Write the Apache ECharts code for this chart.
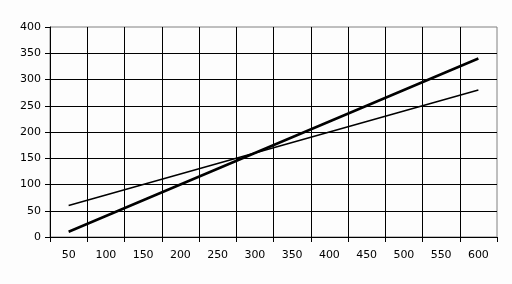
<!DOCTYPE html>
<html>
<head>
<meta charset="utf-8">
<script src="https://cdn.jsdelivr.net/npm/echarts@6/dist/echarts.min.js"></script>
<style>
html,body{margin:0;padding:0;background:#fdfdfd;}
#c{width:512px;height:284px;}
</style>
</head>
<body>
<div id="c"></div>
<script>
var categories = ['50','100','150','200','250','300','350','400','450','500','550','600'];
var thickSeries = [10, 40, 70, 100, 130, 160, 190, 220, 250, 280, 310, 340];
var thinSeries = [60, 80, 100, 120, 140, 160, 180, 200, 220, 240, 260, 280];
var yTicks = {min: 0, max: 400, interval: 50};

var chart = echarts.init(document.getElementById('c'), null, {renderer: 'canvas'});
chart.setOption({
  animation: false,
  backgroundColor: '#fdfdfd',
  grid: {left: 50, right: 15, top: 27, bottom: 47, show: true, borderColor: '#808080', borderWidth: 1, backgroundColor: 'transparent'},
  xAxis: {
    type: 'category',
    data: categories,
    boundaryGap: true,
    axisLine: {show: true, lineStyle: {color: '#000', width: 1}},
    axisTick: {show: true, interval: 0, length: 5, lineStyle: {color: '#000'}},
    axisLabel: {interval: 0, color: '#000', fontFamily: 'DejaVu Sans', fontSize: 11, margin: 13},
    splitLine: {show: true, interval: 0, showMinLine: false, showMaxLine: false, lineStyle: {color: '#000', width: 1}}
  },
  yAxis: {
    type: 'value',
    min: yTicks.min, max: yTicks.max, interval: yTicks.interval,
    axisLine: {show: true, lineStyle: {color: '#000', width: 1}},
    axisTick: {show: true, length: 5, lineStyle: {color: '#000'}},
    axisLabel: {color: '#000', fontFamily: 'DejaVu Sans', fontSize: 11, margin: 9},
    splitLine: {show: true, showMinLine: false, showMaxLine: false, lineStyle: {color: '#000', width: 1}}
  },
  series: [
    {type: 'line', data: thinSeries, symbol: 'none', lineStyle: {color: '#000', width: 1.5}},
    {type: 'line', data: thickSeries, symbol: 'none', lineStyle: {color: '#000', width: 2.5}}
  ]
});
</script>
</body>
</html>
